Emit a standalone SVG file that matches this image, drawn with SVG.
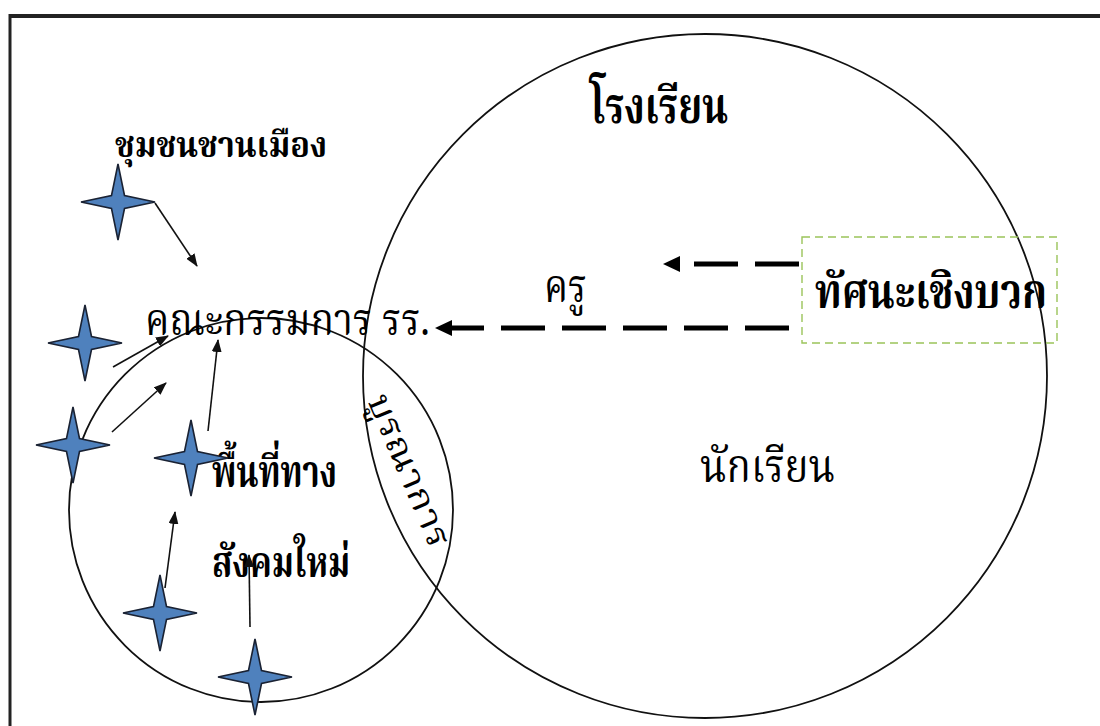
<svg xmlns="http://www.w3.org/2000/svg" width="1100" height="726" viewBox="0 0 1100 726">
<style>
.t{font-family:'Noto Serif Thai','Noto Sans Thai Looped','Noto Sans Thai','Noto Sans','DejaVu Sans',sans-serif;fill:#000}
.b{font-weight:bold}
.circle{fill:none;stroke:#111;stroke-width:1.8}
.star{fill:#4F81BD;stroke:#1a2233;stroke-width:1.6}
.thin{stroke:#111;stroke-width:1.6;fill:none;marker-end:url(#ah)}
.dash{stroke:#000;stroke-width:5;stroke-dasharray:44 17;fill:none;marker-end:url(#bh)}
</style>
<defs>
<path id="st" d="M0,-38 L6.5,-6.5 L37,0 L6.5,6.5 L0,38 L-6.5,6.5 L-37,0 L-6.5,-6.5 Z"/>
<marker id="ah" markerUnits="userSpaceOnUse" markerWidth="14" markerHeight="10" refX="12" refY="5" orient="auto" viewBox="0 0 14 10">
<path d="M0,0 L13,5 L0,10 Z" fill="#111"/>
</marker>
<marker id="bh" markerUnits="userSpaceOnUse" markerWidth="18" markerHeight="16" refX="0" refY="8" orient="auto" viewBox="0 0 18 16">
<path d="M0,0 L17,8 L0,16 Z" fill="#000"/>
</marker>
</defs>
<rect width="1100" height="726" fill="#fff"/>
<g id="frame">
<line x1="9" y1="16" x2="1100" y2="16" stroke="#222" stroke-width="4"/>
<line x1="10" y1="14" x2="10" y2="726" stroke="#222" stroke-width="3"/>
</g>
<g id="school">
<circle class="circle" cx="705" cy="376" r="342"/>
<text class="t b" x="590" y="123" font-size="50" textLength="138" lengthAdjust="spacingAndGlyphs">โรงเรียน</text>
</g>
<g id="newspace">
<circle class="circle" cx="261" cy="510" r="192"/>
<text class="t b" x="212" y="487" font-size="44" textLength="125" lengthAdjust="spacingAndGlyphs">พื้นที่ทาง</text>
<text class="t b" x="212" y="577" font-size="42" textLength="138" lengthAdjust="spacingAndGlyphs">สังคมใหม่</text>
</g>
<g id="community">
<text class="t b" x="115" y="157" font-size="36" textLength="212" lengthAdjust="spacingAndGlyphs">ชุมชนชานเมือง</text>
</g>
<g id="committee">
<text class="t" x="145" y="335" font-size="44" textLength="285" lengthAdjust="spacingAndGlyphs">คณะกรรมการ รร.</text>
</g>
<g id="teacher">
<text class="t" x="544" y="302" font-size="46" textLength="43" lengthAdjust="spacingAndGlyphs">ครู</text>
</g>
<g id="student">
<text class="t" x="700" y="482" font-size="46" textLength="135" lengthAdjust="spacingAndGlyphs">นักเรียน</text>
</g>
<g id="integration">
<text class="t" transform="translate(367,400) rotate(67)" font-size="34" textLength="163" lengthAdjust="spacingAndGlyphs">บูรณาการ</text>
</g>
<g id="positive">
<rect x="802" y="237" width="255" height="106" fill="none" stroke="#9BC45A" stroke-width="1.4" stroke-dasharray="8 5"/>
<text class="t b" x="815" y="308" font-size="48" textLength="232" lengthAdjust="spacingAndGlyphs">ทัศนะเชิงบวก</text>
</g>
<g id="stars">
<use href="#st" class="star" x="118" y="202"/>
<use href="#st" class="star" x="85" y="343"/>
<use href="#st" class="star" x="73" y="445"/>
<use href="#st" class="star" x="191" y="458"/>
<use href="#st" class="star" x="160" y="613"/>
<use href="#st" class="star" x="255" y="677"/>
</g>
<g id="connectors">
<line class="thin" x1="155" y1="203" x2="197" y2="266"/>
<line class="thin" x1="113" y1="367" x2="168" y2="336"/>
<line class="thin" x1="112" y1="432" x2="166" y2="383"/>
<line class="thin" x1="208" y1="431" x2="218" y2="340"/>
<line class="thin" x1="165" y1="588" x2="175" y2="512"/>
<line class="thin" x1="250" y1="627" x2="249" y2="555"/>
<path class="dash" d="M799,264 L680,264"/>
<path class="dash" d="M789,328 L452,328"/>
</g>
</svg>
